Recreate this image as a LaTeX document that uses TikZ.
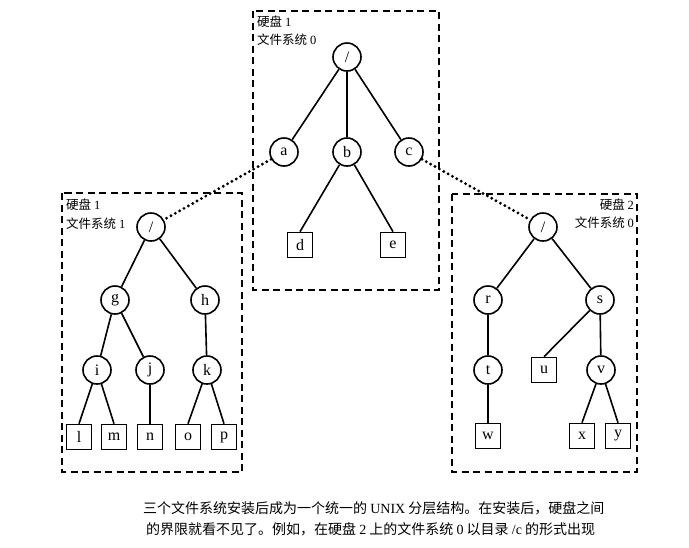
\documentclass[tikz,border=0pt]{standalone}
\usepackage{fontspec}
\setmainfont{Liberation Serif}
\newfontfamily\cjk{Noto Sans CJK SC}
\begin{document}
\begin{tikzpicture}[x=1pt,y=-1pt,
  dir/.style={circle, draw, line width=1.6pt, minimum size=28pt, inner sep=0pt, font=\fontsize{16}{16}\selectfont},
  file/.style={rectangle, draw, line width=1.6pt, minimum width=25pt, minimum height=25pt, inner sep=0pt, font=\fontsize{16}{16}\selectfont},
  edge/.style={line width=1.6pt},
  mount/.style={line width=3.2pt, dash pattern=on 0pt off 5pt, line cap=round},
  disk/.style={draw, line width=1.8pt, dash pattern=on 7pt off 4.5pt},
  lab/.style={font=\cjk\fontsize{12.5}{12.5}\selectfont, inner sep=0pt},
  captext/.style={font=\cjk\fontsize{14}{14}\selectfont, inner sep=0pt, anchor=west}
]
\useasboundingbox (0,0) rectangle (689,547);
% disk boxes
\draw[disk] (253,11) rectangle (439,290);
\draw[disk] (62,193) rectangle (242,472);
\draw[disk] (452,194) rectangle (637,472);
% labels
\node[lab, anchor=west] (t1) at (257,22) {硬盘 {\rmfamily 1}};
\node[lab, anchor=west] (t2) at (257,40) {文件系统 {\rmfamily 0}};
\node[lab, anchor=west] (l1) at (66,205) {硬盘 {\rmfamily 1}};
\node[lab, anchor=west] (l2) at (66,224) {文件系统 {\rmfamily 1}};
\node[lab, anchor=east] (r1) at (634,205) {硬盘 {\rmfamily 2}};
\node[lab, anchor=east] (r2) at (634,223) {文件系统 {\rmfamily 0}};
% top tree
\node[dir] (root0) at (347,57) {/};
\node[dir] (na) at (284,152) {a};
\node[dir] (nb) at (347,152) {b};
\node[dir] (nc) at (409,152) {c};
\node[file] (nd) at (300,245) {d};
\node[file] (ne) at (393,245) {e};
\draw[edge] (root0) -- (na);
\draw[edge] (root0) -- (nb);
\draw[edge] (root0) -- (nc);
\draw[edge] (nb) -- (nd.north);
\draw[edge] (nb) -- (ne.north);
% left tree
\node[dir] (root1) at (151,227) {/};
\node[dir] (ng) at (115,300) {g};
\node[dir] (nh) at (205,300) {h};
\node[dir] (ni) at (97,370) {i};
\node[dir] (nj) at (150,370) {j};
\node[dir] (nk) at (207,370) {k};
\node[file] (nl) at (79,437) {l};
\node[file] (nm) at (114,437) {m};
\node[file] (nn) at (150,437) {n};
\node[file] (no) at (188,437) {o};
\node[file] (np) at (224,437) {p};
\draw[edge] (root1) -- (ng);
\draw[edge] (root1) -- (nh);
\draw[edge] (ng) -- (ni);
\draw[edge] (ng) -- (nj);
\draw[edge] (nh) -- (nk);
\draw[edge] (ni) -- (nl.north);
\draw[edge] (ni) -- (nm.north);
\draw[edge] (nj) -- (nn.north);
\draw[edge] (nk) -- (no.north);
\draw[edge] (nk) -- (np.north);
% right tree
\node[dir] (root2) at (543,227) {/};
\node[dir] (nr) at (488,300) {r};
\node[dir] (ns) at (600,300) {s};
\node[dir] (nt) at (488,370) {t};
\node[file] (nu) at (544,370) {u};
\node[dir] (nv) at (601,370) {v};
\node[file] (nw) at (488,436) {w};
\node[file] (nx) at (582,436) {x};
\node[file] (ny) at (618,436) {y};
\draw[edge] (root2) -- (nr);
\draw[edge] (root2) -- (ns);
\draw[edge] (nr) -- (nt);
\draw[edge] (ns) -- (nu.north);
\draw[edge] (ns) -- (nv);
\draw[edge] (nt) -- (nw.north);
\draw[edge] (nv) -- (nx.north);
\draw[edge] (nv) -- (ny.north);
% mounts
\draw[mount] (na) -- (root1);
\draw[mount] (nc) -- (root2);
% caption
\node[captext] (cap1) at (143,508) {三个文件系统安装后成为一个统一的 {\rmfamily UNIX} 分层结构。在安装后，硬盘之间};
\node[captext] (cap2) at (146,529) {的界限就看不见了。例如，在硬盘 {\rmfamily 2} 上的文件系统 {\rmfamily 0} 以目录 {\rmfamily /c} 的形式出现};
\end{tikzpicture}
\end{document}
